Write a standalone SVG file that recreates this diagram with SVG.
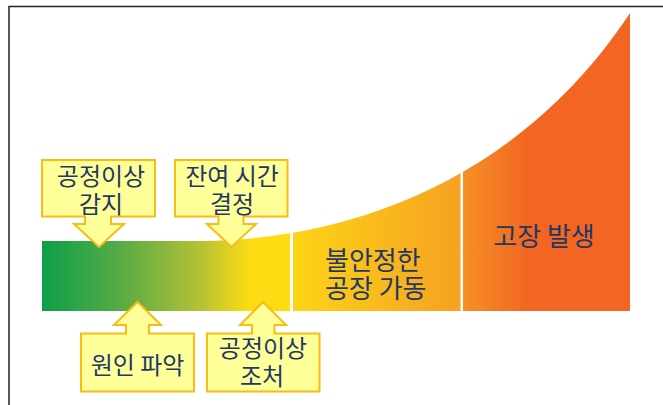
<svg xmlns="http://www.w3.org/2000/svg" width="663" height="405" viewBox="0 0 663 405">
  <defs>
    <linearGradient id="grad" gradientUnits="userSpaceOnUse" x1="42" y1="0" x2="630" y2="0">
      <stop offset="0" stop-color="#0D9F49"/>
      <stop offset="0.133" stop-color="#57AB45"/>
      <stop offset="0.269" stop-color="#B4C136"/>
      <stop offset="0.354" stop-color="#FEDC14"/>
      <stop offset="0.422" stop-color="#FFDB14"/>
      <stop offset="0.427" stop-color="#FDD417"/>
      <stop offset="0.711" stop-color="#F6A123"/>
      <stop offset="0.716" stop-color="#F59025"/>
      <stop offset="0.83" stop-color="#F26522"/>
      <stop offset="1" stop-color="#F26522"/>
    </linearGradient>
    <style>
      .callout { fill: #FFFF99; stroke: #F8BC14; stroke-width: 2; stroke-linejoin: miter; }
      .lbl { font-family: "Noto Sans CJK KR", "Noto Sans", sans-serif; font-size: 24px; fill: #1F3864; text-anchor: middle; }
      .big { font-family: "Noto Sans CJK KR", "Noto Sans", sans-serif; font-size: 26px; fill: #1F3864; }
    </style>
  </defs>
  <rect x="0" y="0" width="663" height="405" fill="#FFFFFF"/>
  <rect x="9" y="6.5" width="700" height="500" fill="none" stroke="#222222" stroke-width="1.5"/>

  <g id="curve">
    <path d="M42 241 L200 241 C350 240 520 180 630 13 L630 311 L42 311 Z" fill="url(#grad)"/>
    <rect x="290" y="200" width="3" height="112" fill="#FFFFFF"/>
    <rect x="460.5" y="140" width="2.5" height="172" fill="#FFFFFF"/>
  </g>

  <g id="section-unstable">
    <text class="big" x="325" y="270">불안정한</text>
    <text class="big" x="325" y="298">공장 가동</text>
  </g>
  <g id="section-failure">
    <text class="big" x="544" y="246" text-anchor="middle">고장 발생</text>
  </g>

  <g id="connectors"></g>

  <g id="callout-detect">
    <path class="callout" d="M42 160 H155 V216.5 H111 V224 H124 L99 247 L74 224 H85 V216.5 H42 Z"/>
    <text class="lbl" x="101" y="185">공정이상</text>
    <text class="lbl" x="101" y="213">감지</text>
  </g>
  <g id="callout-remaining">
    <path class="callout" d="M175 160 H287.5 V216.5 H243.5 V224 H256 L231.5 247 L207 224 H218.5 V216.5 H175 Z"/>
    <text class="lbl" x="232" y="185">잔여 시간</text>
    <text class="lbl" x="232" y="213">결정</text>
  </g>
  <g id="callout-cause">
    <path class="callout" d="M81 333.5 H126 V325 H114 L137.5 302 L161 325 H149 V333.5 H194 V391.5 H81 Z"/>
    <text class="lbl" x="137.5" y="374">원인 파악</text>
  </g>
  <g id="callout-action">
    <path class="callout" d="M207 333.5 H252 V325 H240 L263 302 L286 325 H274.5 V333.5 H319.5 V391.5 H207 Z"/>
    <text class="lbl" x="263" y="357">공정이상</text>
    <text class="lbl" x="262" y="385">조처</text>
  </g>
</svg>
